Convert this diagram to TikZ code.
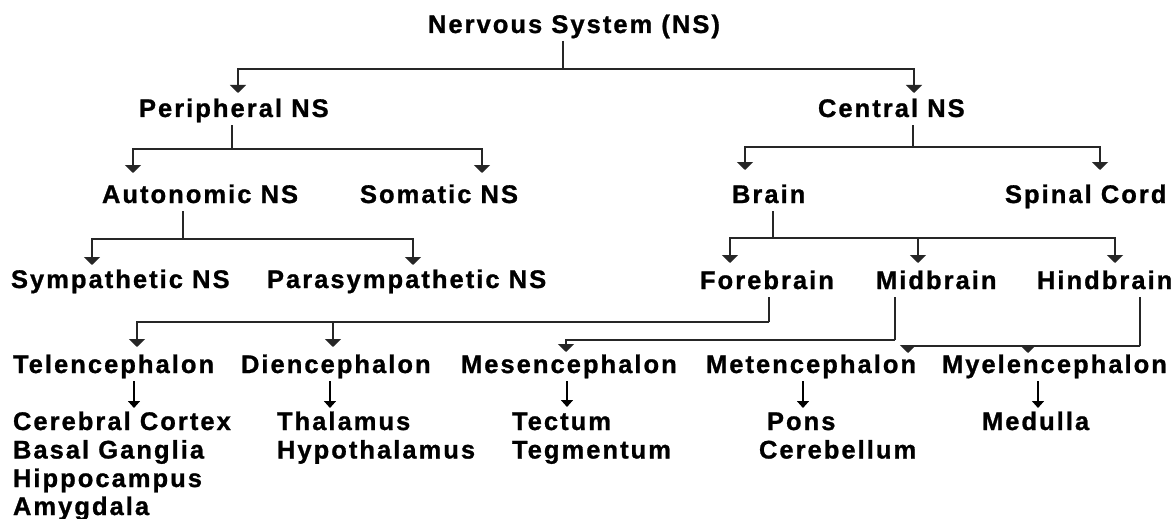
\documentclass[tikz,border=0pt]{standalone}
\usepackage{fontspec}
\newfontfamily\diag{Liberation Sans}[LetterSpace=8, FakeBold=1]
\usetikzlibrary{arrows.meta}
\begin{document}
\begin{tikzpicture}[x=1pt,y=-1pt,
  lbl/.style={inner sep=0pt, outer sep=0pt, anchor=base west,
    font=\diag\bfseries\fontsize{25.5}{29}\selectfont, text height=17pt, text depth=8pt},
  stem/.style={line width=2pt, draw=black!85},
  bus/.style={line width=2pt, draw=black!85, -{Triangle[width=16pt,length=8pt]}},
  small/.style={line width=1.6pt, draw=black, -{Triangle[width=12pt,length=7pt]}}]
\useasboundingbox[fill=white] (0,0) rectangle (1176,519);
% level 1-3
\node[lbl] (ns) at (428,33) {Nervous System (NS)};
\node[lbl] (pns) at (139,117) {Peripheral NS};
\node[lbl] (cns) at (818,117) {Central NS};
\node[lbl] (ans) at (102,203) {Autonomic NS};
\node[lbl] (sns) at (360,203) {Somatic NS};
\node[lbl] (brain) at (732,203) {Brain};
\node[lbl] (spinal) at (1005,203) {Spinal Cord};
\node[lbl] (symp) at (11,288) {Sympathetic NS};
\node[lbl] (para) at (267,288) {Parasympathetic NS};
\node[lbl] (fore) at (700,289) {Forebrain};
\node[lbl] (mid) at (876,289) {Midbrain};
\node[lbl] (hind) at (1037,289) {Hindbrain};
% level 4
\node[lbl] (tel) at (13,373) {Telencephalon};
\node[lbl] (die) at (241,373) {Diencephalon};
\node[lbl] (mes) at (461,373) {Mesencephalon};
\node[lbl] (met) at (706,373) {Metencephalon};
\node[lbl] (mye) at (942,373) {Myelencephalon};
% level 5
\node[lbl] (cc) at (13,430) {Cerebral Cortex};
\node[lbl] (bg) at (13,458.5) {Basal Ganglia};
\node[lbl] (hip) at (13,487) {Hippocampus};
\node[lbl] (amy) at (13,515) {Amygdala};
\node[lbl] (thal) at (277,430) {Thalamus};
\node[lbl] (hyp) at (277,458.5) {Hypothalamus};
\node[lbl] (tect) at (512,430) {Tectum};
\node[lbl] (teg) at (512,458.5) {Tegmentum};
\node[lbl] (pons) at (767,430) {Pons};
\node[lbl] (cer) at (759,458.5) {Cerebellum};
\node[lbl] (med) at (982,430) {Medulla};
% junctions and arrow tips
\coordinate (jNS) at (563,69);
\coordinate (tPNS) at (238,93);
\coordinate (tCNS) at (914,93);
\coordinate (jP) at (232,149);
\coordinate (tANS) at (133,173);
\coordinate (tSNS) at (482,173);
\coordinate (jC) at (913,147);
\coordinate (tBrain) at (745,170);
\coordinate (tSpinal) at (1100,170);
\coordinate (jA) at (183,239);
\coordinate (tSymp) at (92,265);
\coordinate (tPara) at (413,265);
\coordinate (jB) at (773,238);
\coordinate (tFore) at (730,263);
\coordinate (tMid) at (918,263);
\coordinate (tHind) at (1115,263);
\coordinate (jF) at (769,322);
\coordinate (tTel) at (137,347);
\coordinate (tDie) at (333,347);
\coordinate (jM) at (895,340);
\coordinate (tMes) at (566,352);
\coordinate (jH) at (1140,346);
\coordinate (tMet) at (908,353);
\coordinate (tMye) at (1028,353);
% tree connectors
\draw[stem] (ns.south -| jNS) -- (jNS);
\draw[bus] (jNS) -| (tPNS);
\draw[bus] (jNS) -| (tCNS);
\draw[stem] (pns.south -| jP) -- (jP);
\draw[bus] (jP) -| (tANS);
\draw[bus] (jP) -| (tSNS);
\draw[stem] (cns.south -| jC) -- (jC);
\draw[bus] (jC) -| (tBrain);
\draw[bus] (jC) -| (tSpinal);
\draw[stem] (ans.south -| jA) -- (jA);
\draw[bus] (jA) -| (tSymp);
\draw[bus] (jA) -| (tPara);
\draw[stem] (brain.south -| jB) -- (jB);
\draw[bus] (jB) -| (tFore);
\draw[bus] (jB) -| (tMid);
\draw[bus] (jB) -| (tHind);
\draw[stem] (fore.south -| jF) -- (jF);
\draw[bus] (jF) -| (tTel);
\draw[bus] (jF) -| (tDie);
\draw[stem] (mid.south -| jM) -- (jM);
\draw[bus] (jM) -| (tMes);
\draw[stem] (hind.south -| jH) -- (jH);
\draw[bus] (jH) -| (tMet);
\draw[bus] (jH) -| (tMye);
% small arrows
\draw[small] (tel.south -| 134,0) -- (134,408);
\draw[small] (die.south -| 330,0) -- (330,408);
\draw[small] (mes.south -| 567,0) -- (567,407);
\draw[small] (met.south -| 803,0) -- (803,408);
\draw[small] (mye.south -| 1038,0) -- (1038,408);
\end{tikzpicture}
\end{document}
